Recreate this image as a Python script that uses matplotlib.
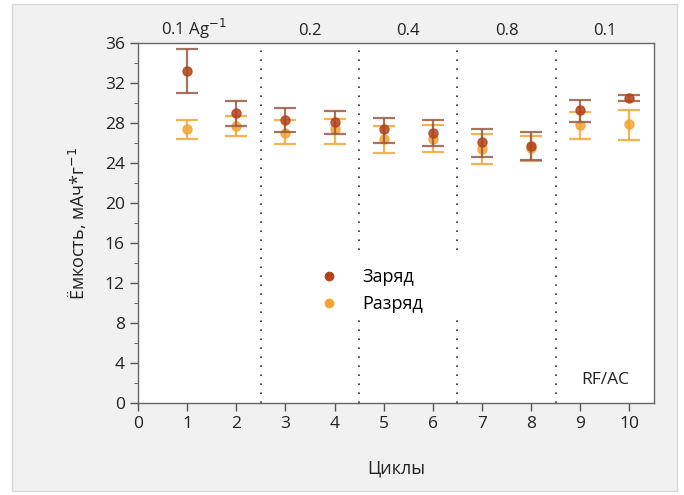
import matplotlib.pyplot as plt
from matplotlib.patches import Rectangle
from matplotlib.lines import Line2D

plt.rcParams['font.family'] = ['Open Sans', 'DejaVu Sans']

# Данные: циклы, заряд / разряд с погрешностями
cycles = [1, 2, 3, 4, 5, 6, 7, 8, 9, 10]
charge = [33.2, 29.0, 28.3, 28.1, 27.4, 27.0, 26.1, 25.7, 29.3, 30.5]
charge_hi = [35.4, 30.2, 29.5, 29.2, 28.5, 28.3, 27.4, 27.1, 30.3, 30.8]
charge_lo = [31.0, 27.7, 27.1, 26.9, 26.0, 25.7, 24.6, 24.3, 28.1, 30.2]
discharge = [27.4, 27.7, 27.0, 27.4, 26.4, 26.4, 25.4, 25.5, 27.8, 27.9]
discharge_hi = [28.3, 28.7, 28.3, 28.4, 27.7, 27.8, 26.9, 26.7, 29.1, 29.3]
discharge_lo = [26.4, 26.7, 25.9, 25.9, 25.0, 25.1, 23.9, 24.2, 26.4, 26.3]

rates = ['0.1 Ag$^{-1}$', '0.2', '0.4', '0.8', '0.1']
rate_pos = [1.14, 3.5, 5.5, 7.5, 9.5]
borders = [2.5, 4.5, 6.5, 8.5]

c_charge = '#b4431c'
c_discharge = '#f5a431'

fig = plt.figure(figsize=(6.84, 4.95), dpi=100, facecolor='white')
bg = Rectangle((12 / 684, 4 / 495), 665 / 684, 487 / 495,
               transform=fig.transFigure, facecolor='#f1f1f2',
               edgecolor='#d8d8d8', linewidth=1, zorder=-10)
fig.add_artist(bg)
ax = fig.add_axes([138 / 684, 92 / 495, 516 / 684, 360 / 495])
ax.set_facecolor('white')

err_c = [[c - l for c, l in zip(charge, charge_lo)], [h - c for c, h in zip(charge, charge_hi)]]
err_d = [[d - l for d, l in zip(discharge, discharge_lo)], [h - d for d, h in zip(discharge, discharge_hi)]]

ax.errorbar(cycles, discharge, yerr=err_d, fmt='o', color=c_discharge, ecolor=c_discharge,
            elinewidth=1.6, capsize=8, capthick=1.6, markersize=6.5, alpha=0.85, zorder=3)
ax.errorbar(cycles, charge, yerr=err_c, fmt='o', color=c_charge, ecolor='#9a5a42',
            elinewidth=1.6, capsize=8, capthick=1.6, markersize=6.5, alpha=0.85, zorder=4)

for b in borders:
    ax.plot([b, b], [0, 35.6], linestyle=(0, (1, 4.4)), color='#333333', linewidth=1.2, zorder=2)

for txt, p in zip(rates, rate_pos):
    ax.text(p, 36.8, txt, ha='center', va='baseline', fontsize=12, color='#222222')

ax.text(9.51, 2.3, 'RF/AC', ha='center', va='center', fontsize=12.5, color='#222222')

ax.set_xlim(0, 10.5)
ax.set_ylim(0, 36)
ax.set_xticks(range(0, 11))
ax.set_yticks(range(0, 37, 4))
ax.set_yticks(range(2, 36, 4), minor=True)
ax.tick_params(axis='both', labelsize=12.5, colors='#555555', labelcolor='#222222', length=6, width=1)
ax.tick_params(axis='y', which='minor', length=3, colors='#555555')
for s in ax.spines.values():
    s.set_color('#666666')
    s.set_linewidth(1)

ax.set_xlabel('Циклы', fontsize=13, color='#222222', labelpad=20)
ax.set_ylabel('Ёмкость, мАч*г$^{-1}$', fontsize=13, color='#222222', labelpad=12)

# белая подложка легенды (перекрывает пунктир)
ax.add_patch(Rectangle((0.31, 0.230), 0.34, 0.186, transform=ax.transAxes,
                       facecolor='white', edgecolor='none', zorder=2.5))

handles = [Line2D([], [], linestyle='none', marker='o', markersize=6, color=c_charge),
           Line2D([], [], linestyle='none', marker='o', markersize=6, color=c_discharge)]
leg = ax.legend(handles, ['Заряд', 'Разряд'], loc='center left', bbox_to_anchor=(0.3246, 0.3125),
                frameon=False, fontsize=13, handletextpad=1.07, handlelength=1.6,
                borderpad=0.5, labelspacing=0.5, borderaxespad=0)
leg.set_zorder(5)

fig.savefig('out.png', dpi=100)
